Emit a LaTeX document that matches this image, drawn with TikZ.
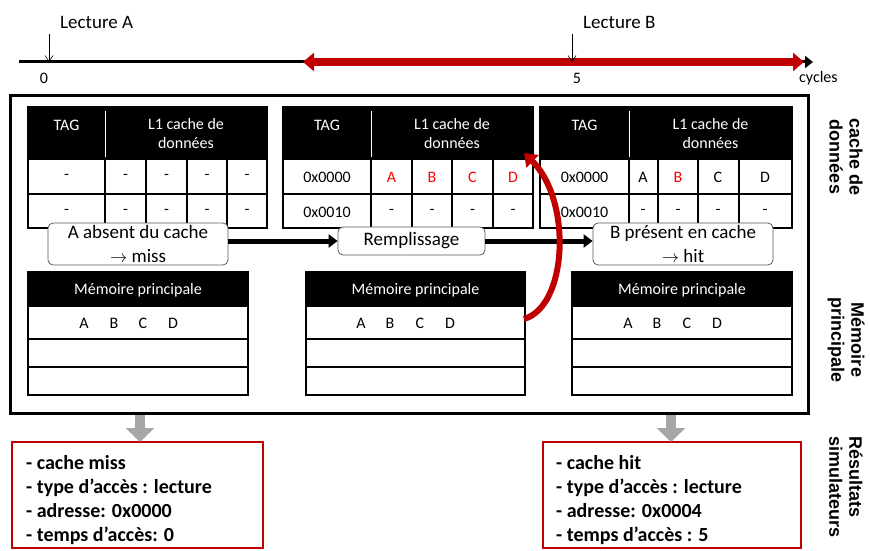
\documentclass[tikz,border=0pt]{standalone}
\usepackage{fontspec}
\setmainfont{Carlito}
\newfontfamily\arialfont{Liberation Sans}
\usetikzlibrary{arrows.meta}
\definecolor{dred}{HTML}{C00000}
\definecolor{bred}{HTML}{FF0000}
\definecolor{arrgray}{HTML}{A6A6A6}
\newcommand\fs[2]{\fontsize{#1}{#2}\selectfont}
\newcommand\CacheTable[7]{%
  \fill[black] (#2,107) rectangle (#7,159);
  \draw[white, line width=1pt] (#3,111) -- (#3,157);
  \draw[tbl] (#2,159) -- (#7,159);
  \draw[tbl] (#2,194) -- (#7,194);
  \foreach \xx in {#3,#4,#5,#6} {\draw[tbl] (\xx,159) -- (\xx,228);}
  \draw[tbl] (#2,107) rectangle (#7,228);
  \node[hdr] (#1tag) at ({(#2+#3)/2},125) {TAG};
  \node[hdr, align=center] (#1lone) at ({(#3+#7)/2},134) {L1 cache de\\données};
}
\newcommand\MemTable[3]{%
  \fill[black] (#2,272) rectangle (#3,306);
  \draw[tbl] (#2,272) rectangle (#3,395);
  \draw[tbl] (#2,306) -- (#3,306);
  \draw[tbl] (#2,339) -- (#3,339);
  \draw[tbl] (#2,367) -- (#3,367);
  \node[hdr, font=\fs{16}{19}] (#1head) at ({(#2+#3)/2},290) {Mémoire principale};
}
\begin{document}
\begin{tikzpicture}[x=1pt,y=-1pt,
  tbl/.style={draw=black, line width=1.5pt},
  hdr/.style={text=white, font=\fs{16}{19}, inner sep=0pt},
  cell/.style={font=\fs{16}{19}, inner sep=0pt},
  bubble/.style={draw=black!65, line width=0.8pt, rounded corners=5pt, fill=white, align=center, font=\fs{19}{24}, inner sep=0pt},
  side/.style={font=\arialfont\bfseries\fs{18}{20}, rotate=-90, inner sep=0pt},
  resbox/.style={draw=dred, line width=2.5pt, fill=white, inner sep=0pt, outer sep=0pt},
  restext/.style={font=\bfseries\fs{20}{24}, align=left, inner sep=0pt},
  thinarrow/.style={line width=0.6pt, -{Straight Barb[length=6pt,width=8pt]}},
  blackarrow/.style={line width=5pt, -{Triangle[width=13pt,length=9pt]}},
  grayarrow/.style={arrgray, line width=10pt, -{Triangle[width=28pt,length=14pt]}},
  tl/.style={inner sep=0pt, font=\fs{19}{21}}
]
\useasboundingbox (0,0) rectangle (870,551);

% ---------- timeline ----------
\coordinate (tA) at (19,62);
\coordinate (tM) at (303,62);
\coordinate (tR) at (804,62);
\coordinate (tE) at (813,62);
\draw[line width=3pt, -{Triangle[width=12pt,length=8pt]}] (tA) -- (tE);
\draw[dred, line width=8pt, {Triangle[width=18pt,length=11pt]}-{Triangle[width=18pt,length=11pt]}] (tM) -- (tR);
\node[tl, anchor=west] (lecA) at (60,22) {Lecture A};
\node[tl, anchor=west] (lecB) at (583,22) {Lecture B};
\coordinate (aA0) at (49,34); \coordinate (aA1) at (49,62);
\coordinate (aB0) at (572,34); \coordinate (aB1) at (572,62);
\draw[thinarrow] (aA0) -- (aA1);
\draw[thinarrow] (aB0) -- (aB1);
\node[tl, font=\fs{16}{19}] (zero) at (44,78) {0};
\node[tl, font=\fs{16}{19}] (five) at (577,78) {5};
\node[tl, font=\fs{16}{19}, anchor=west] (cyc) at (799,78) {cycles};

% ---------- frame ----------
\node[draw, line width=3pt, minimum width=798pt, minimum height=318pt, inner sep=0pt, outer sep=0pt] (frame) at (409,254) {};

% ---------- cache tables ----------
\CacheTable{L}{28}{105}{146}{187}{227}{267}
\CacheTable{M}{283}{371}{412}{452}{493}{533}
\CacheTable{R}{540}{629}{658}{698}{739}{792}

\foreach \nm/\x/\t in {Lr1t/66.5/-, Lr1a/125.5/-, Lr1b/166.5/-, Lr1c/207/-, Lr1d/247/-,
  Mr1t/327/0x0000, Mr1a/391.5/\textcolor{bred}{A}, Mr1b/432/\textcolor{bred}{B}, Mr1c/472.5/\textcolor{bred}{C}, Mr1d/513/\textcolor{bred}{D},
  Rr1t/584.5/0x0000, Rr1a/643/A, Rr1b/678/\textcolor{bred}{B}, Rr1c/718/C, Rr1d/765/D}
  {\node[cell] (\nm) at (\x,177) {\t};}
\foreach \nm/\x/\t in {Lr2t/66.5/-, Lr2a/125.5/-, Lr2b/166.5/-, Lr2c/207/-, Lr2d/247/-,
  Mr2t/327/0x0010, Mr2a/391.5/-, Mr2b/432/-, Mr2c/472.5/-, Mr2d/513/-,
  Rr2t/584.5/0x0010, Rr2a/643/-, Rr2b/678/-, Rr2c/718/-, Rr2d/765/-}
  {\node[cell] (\nm) at (\x,212) {\t};}

% ---------- memory tables ----------
\MemTable{mL}{28}{248}
\MemTable{mM}{306}{525}
\MemTable{mR}{572}{792}
\foreach \nm/\x/\t in {mLa/84/A, mLb/114/B, mLc/143/C, mLd/173/D,
  mMa/361/A, mMb/390/B, mMc/420/C, mMd/450/D,
  mRa/628/A, mRb/657/B, mRc/687/C, mRd/717/D}
  {\node[cell] (\nm) at (\x,323) {\t};}

% ---------- bubbles and flow arrows ----------
\node[bubble, minimum width=180pt, minimum height=42pt] (bubA) at (138,244) {A absent du cache\\$\rightarrow$ miss};
\node[bubble, minimum width=147pt, minimum height=28pt] (bubR) at (411.5,241) {Remplissage};
\node[bubble, minimum width=180pt, minimum height=42pt] (bubB) at (683,244) {B présent en cache\\$\rightarrow$ hit};
\draw[blackarrow] (bubA.east |- bubR.west) -- (bubR.west);
\draw[blackarrow] (bubR.east) -- (bubB.west |- bubR.east);

% ---------- red refill arrow ----------
\coordinate (memSrc) at (524,319);
\coordinate (cacheDst) at (524,153);
\draw[dred, line width=6pt, -{Triangle[width=17pt,length=12pt]}] (memSrc) .. controls (568,306) and (572,200) .. (cacheDst);

% ---------- side labels ----------
\node[side, align=center] (sideC) at (846,157) {cache de\\données};
\node[side, align=center] (sideM) at (846,340) {Mémoire\\principale};
\node[side, align=left, anchor=west] (sideR) at (846,436) {Résultats\\simulateurs};

% ---------- results ----------
\node[resbox, minimum width=251pt, minimum height=106pt] (resL) at (137.5,495) {};
\node[resbox, minimum width=258pt, minimum height=106pt] (resR) at (672,495) {};
\node[restext, anchor=north west] (resLt) at (26,455) {- cache miss\\- type d’accès : lecture\\- adresse: 0x0000\\- temps d’accès: 0};
\node[restext, anchor=north west] (resRt) at (556,455) {- cache hit\\- type d’accès : lecture\\- adresse: 0x0004\\- temps d’accès : 5};
\coordinate (gL) at (140,415);
\coordinate (gR) at (671,415);
\draw[grayarrow] (gL) -- (gL |- resL.north);
\draw[grayarrow] (gR) -- (gR |- resR.north);
\end{tikzpicture}
\end{document}
